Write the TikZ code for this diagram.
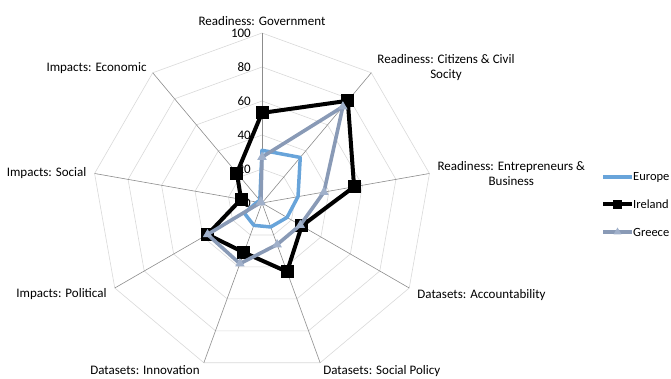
\documentclass[tikz,border=0pt]{standalone}
\usepackage{fontspec}
\setmainfont{Carlito}
\usetikzlibrary{positioning,shapes.geometric}
\definecolor{europe}{RGB}{104,164,218}
\definecolor{greece}{RGB}{137,154,182}
\definecolor{greecemark}{RGB}{160,176,202}
\definecolor{spokegray}{RGB}{140,140,140}
\definecolor{ringgray}{RGB}{217,217,217}

\begin{document}
\begin{tikzpicture}[x=1pt,y=1pt,spoke/.style={draw=spokegray,line width=0.6pt},ring/.style={draw=ringgray,line width=0.6pt},axlabel/.style={font=\fontsize{13}{15.5}\selectfont,align=center,inner sep=0pt},tick/.style={font=\fontsize{13}{15}\selectfont,anchor=east,inner sep=0pt},europeline/.style={draw=europe,line width=3.5pt,line join=round},irelandline/.style={draw=black,line width=4pt,line join=round},greeceline/.style={draw=greece,line width=3.6pt,line join=round},irelandmark/.style={rectangle,fill=black,minimum size=13pt,inner sep=0pt},greecemark/.style={regular polygon,regular polygon sides=3,fill=greecemark,minimum size=11pt,inner sep=0pt},legtext/.style={font=\fontsize{12.5}{15}\selectfont,inner sep=0pt}]
  \useasboundingbox (0,0) rectangle (671,378);

  \begin{scope}[shift={(262,175)}]
    \coordinate (c) at (0,0);
    \foreach \i in {0,...,8} \coordinate (ax\i) at ({90-40*\i}:170);
    \foreach \r in {34,68,102,136,170} \draw[ring] (90:\r) \foreach \i in {1,...,8} {-- ({90-40*\i}:\r)} -- cycle;
    \foreach \i in {0,...,8} \draw[spoke] (c) -- (ax\i);
    \foreach \v in {0,20,...,100} \node[tick] (tick\v) at (-11,{1.7*\v}) {\v};

    \foreach \v [count=\i from 0] in {31,35,21.5,17,15,14,12,3,2} \coordinate (eu\i) at ({90-40*\i}:{1.7*\v});
    \foreach \v [count=\i from 0] in {53,78.5,55,27,43,31,37,12.5,23} \coordinate (ie\i) at ({90-40*\i}:{1.7*\v});
    \foreach \v [count=\i from 0] in {27,74,37,26,26,38,37,1,1} \coordinate (gr\i) at ({90-40*\i}:{1.7*\v});
  \end{scope}

  \draw[europeline] (eu0) \foreach \i in {1,...,8} {-- (eu\i)} -- cycle;

  \draw[irelandline] (ie0) \foreach \i in {1,...,8} {-- (ie\i)} -- cycle;
  \foreach \i in {0,...,8} \node[irelandmark] (iem\i) at (ie\i) {};

  \draw[greeceline] (gr0) \foreach \i in {1,...,8} {-- (gr\i)} -- cycle;
  \foreach \i in {0,...,8} \node[greecemark] (grm\i) at (gr\i) {};

  \node[axlabel,above=7pt of ax0] (gov) {Readiness: Government};
  \node[axlabel,right=6pt of ax1,yshift=5pt] (citizens) {Readiness: Citizens \& Civil\\Socity};
  \node[axlabel,right=8pt of ax2] (business) {Readiness: Entrepreneurs \&\\Business};
  \node[axlabel,right=8pt of ax3,yshift=-7pt] (account) {Datasets: Accountability};
  \node[axlabel,below right=3pt and 3pt of ax4] (social) {Datasets: Social Policy};
  \node[axlabel,below left=3pt and 4pt of ax5] (innov) {Datasets: Innovation};
  \node[axlabel,left=8pt of ax6,yshift=-6pt] (political) {Impacts: Political};
  \node[axlabel,left=8pt of ax7] (imsocial) {Impacts: Social};
  \node[axlabel,left=6pt of ax8,yshift=5pt] (economic) {Impacts: Economic};

  \coordinate (keyEu) at (603,201);
  \coordinate (keyEuEnd) at (632,201);
  \draw[europeline] (keyEu) -- (keyEuEnd);
  \node[legtext,right=1pt of keyEuEnd] (keyEuText) {Europe};

  \coordinate (keyIe) at (603,174);
  \coordinate (keyIeEnd) at (632,174);
  \draw[irelandline] (keyIe) -- node[irelandmark,minimum size=9pt] (keyIeMark) {} (keyIeEnd);
  \node[legtext,right=1pt of keyIeEnd] (keyIeText) {Ireland};

  \coordinate (keyGr) at (603,146);
  \coordinate (keyGrEnd) at (632,146);
  \draw[greeceline] (keyGr) -- node[greecemark,minimum size=9pt] (keyGrMark) {} (keyGrEnd);
  \node[legtext,right=1pt of keyGrEnd] (keyGrText) {Greece};
\end{tikzpicture}
\end{document}
